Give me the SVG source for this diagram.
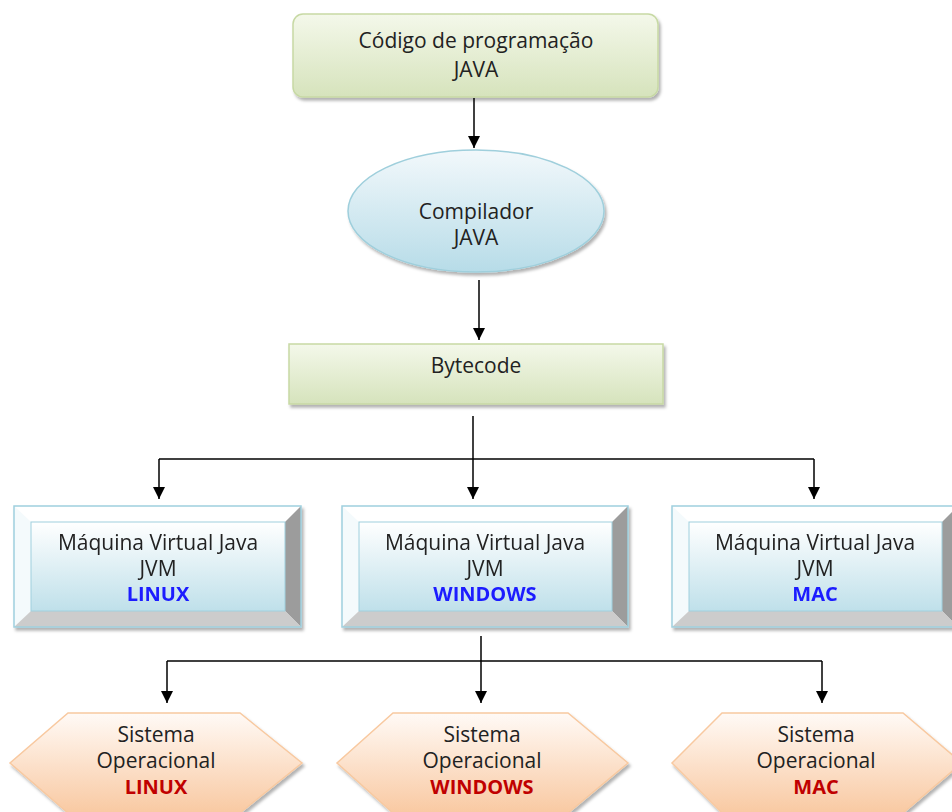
<svg xmlns="http://www.w3.org/2000/svg" width="952" height="812" viewBox="0 0 952 812">
<defs>
<linearGradient id="gGreen" x1="0" y1="0" x2="0" y2="1">
<stop offset="0" stop-color="#f4f8ea"/><stop offset="1" stop-color="#d6e3bc"/>
</linearGradient>
<linearGradient id="gBlue" x1="0" y1="0" x2="0" y2="1">
<stop offset="0" stop-color="#f2f8fb"/><stop offset="1" stop-color="#b7dce8"/>
</linearGradient>
<linearGradient id="gFace" x1="0" y1="0" x2="0" y2="1">
<stop offset="0" stop-color="#ffffff"/><stop offset="1" stop-color="#bfe0ea"/>
</linearGradient>
<linearGradient id="gOrange" x1="0" y1="0" x2="0" y2="1">
<stop offset="0" stop-color="#fffaf6"/><stop offset="1" stop-color="#f9c9a2"/>
</linearGradient>
<filter id="sh" x="-10%" y="-10%" width="120%" height="130%">
<feDropShadow dx="2" dy="3" stdDeviation="1.5" flood-color="#000" flood-opacity="0.3"/>
</filter>
<marker id="arr" viewBox="0 0 10 10" refX="10" refY="5" markerWidth="12" markerHeight="12" markerUnits="userSpaceOnUse" orient="auto">
<path d="M0,0 L10,5 L0,10 Z" fill="#000"/>
</marker>
</defs>
<style>
text{font-family:"Open Sans","Liberation Sans",sans-serif;font-size:21px;fill:#222;text-anchor:middle}
.blue{fill:#1a1aff;font-weight:bold;font-size:20px}
.red{fill:#c00000;font-weight:bold;font-size:20px}
.conn line{stroke:#000;stroke-width:1.5;fill:none}
.green{fill:url(#gGreen);stroke:#c7d9a4;stroke-width:1.5}
.hex{fill:url(#gOrange);stroke:#f8c9a0;stroke-width:1.5}
.edge{fill:none;stroke:#9fd0de;stroke-width:1.5}
</style>
<rect width="952" height="812" fill="#fff"/>

<g id="codigo">
<rect x="293" y="14" width="365" height="83" rx="10" class="green" filter="url(#sh)"/>
<text x="476" y="48">Código de programação</text>
<text x="476" y="77">JAVA</text>
</g>

<g id="compilador">
<ellipse cx="476" cy="211" rx="128" ry="61" fill="url(#gBlue)" stroke="#9fcfdc" stroke-width="1.5" filter="url(#sh)"/>
<text x="476" y="219">Compilador</text>
<text x="476" y="245">JAVA</text>
</g>

<g id="bytecode">
<rect x="289" y="344" width="374" height="60" class="green" filter="url(#sh)"/>
<text x="476" y="373">Bytecode</text>
</g>

<g id="jvm-linux" filter="url(#sh)">
<rect x="14" y="506" width="287" height="121" fill="#fff"/>
<polygon points="14,506 31,522 31,611 14,627" fill="#f4fafc"/>
<polygon points="301,506 285,522 285,611 301,627" fill="#9c9c9c"/>
<polygon points="14,627 31,611 285,611 301,627" fill="#cccccc"/>
<rect x="31" y="522" width="254" height="89" fill="url(#gFace)" stroke="#9fd0de" stroke-width="1"/>
<rect x="14" y="506" width="287" height="121" class="edge"/>
<text x="158" y="550">Máquina Virtual Java</text>
<text x="158" y="576">JVM</text>
<text x="158" y="601" class="blue">LINUX</text>
</g>

<g id="jvm-windows" filter="url(#sh)">
<rect x="342" y="506" width="286" height="121" fill="#fff"/>
<polygon points="342,506 359,522 359,611 342,627" fill="#f4fafc"/>
<polygon points="628,506 612,522 612,611 628,627" fill="#9c9c9c"/>
<polygon points="342,627 359,611 612,611 628,627" fill="#cccccc"/>
<rect x="359" y="522" width="253" height="89" fill="url(#gFace)" stroke="#9fd0de" stroke-width="1"/>
<rect x="342" y="506" width="286" height="121" class="edge"/>
<text x="485" y="550">Máquina Virtual Java</text>
<text x="485" y="576">JVM</text>
<text x="485" y="601" class="blue">WINDOWS</text>
</g>

<g id="jvm-mac" filter="url(#sh)">
<rect x="672" y="506" width="286" height="121" fill="#fff"/>
<polygon points="672,506 689,522 689,611 672,627" fill="#f4fafc"/>
<polygon points="958,506 942,522 942,611 958,627" fill="#9c9c9c"/>
<polygon points="672,627 689,611 942,611 958,627" fill="#cccccc"/>
<rect x="689" y="522" width="253" height="89" fill="url(#gFace)" stroke="#9fd0de" stroke-width="1"/>
<rect x="672" y="506" width="286" height="121" class="edge"/>
<text x="815" y="550">Máquina Virtual Java</text>
<text x="815" y="576">JVM</text>
<text x="815" y="601" class="blue">MAC</text>
</g>

<g id="so-linux">
<polygon points="68,713 240,713 302,763 240,813 68,813 10,763" class="hex" filter="url(#sh)"/>
<text x="156" y="742">Sistema</text>
<text x="156" y="768">Operacional</text>
<text x="156" y="794" class="red">LINUX</text>
</g>

<g id="so-windows">
<polygon points="393,713 568,713 628,763 568,813 393,813 337,763" class="hex" filter="url(#sh)"/>
<text x="482" y="742">Sistema</text>
<text x="482" y="768">Operacional</text>
<text x="482" y="794" class="red">WINDOWS</text>
</g>

<g id="so-mac">
<polygon points="722,713 903,713 962,763 903,813 722,813 672,763" class="hex" filter="url(#sh)"/>
<text x="816" y="742">Sistema</text>
<text x="816" y="768">Operacional</text>
<text x="816" y="794" class="red">MAC</text>
</g>

<g id="connectors" class="conn">
<line x1="474" y1="98" x2="474" y2="148" marker-end="url(#arr)"/>
<line x1="479" y1="280" x2="479" y2="340" marker-end="url(#arr)"/>
<line x1="473" y1="416" x2="473" y2="459"/>
<line x1="159" y1="459" x2="814" y2="459"/>
<line x1="159" y1="459" x2="159" y2="499" marker-end="url(#arr)"/>
<line x1="473" y1="459" x2="473" y2="499" marker-end="url(#arr)"/>
<line x1="814" y1="459" x2="814" y2="499" marker-end="url(#arr)"/>
<line x1="481" y1="636" x2="481" y2="661"/>
<line x1="167" y1="661" x2="822" y2="661"/>
<line x1="167" y1="661" x2="167" y2="703" marker-end="url(#arr)"/>
<line x1="481" y1="661" x2="481" y2="703" marker-end="url(#arr)"/>
<line x1="822" y1="661" x2="822" y2="703" marker-end="url(#arr)"/>
</g>
</svg>
